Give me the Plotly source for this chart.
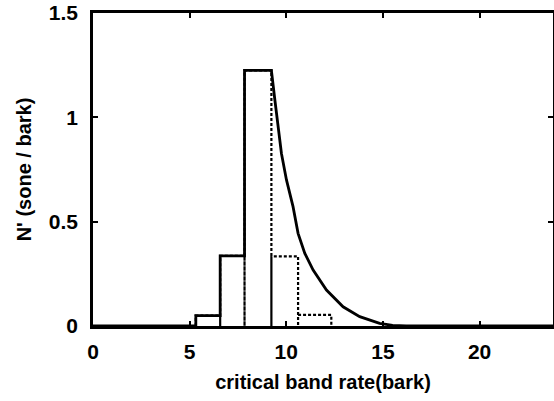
import plotly.graph_objects as go

# Band edges (bark) and levels (sone/bark)
band_edges = [5.32, 6.58, 7.84, 9.23, 10.61, 12.33]
band_levels = [0.05, 0.336, 1.225, 0.334, 0.053]

# Upper-slope (decay) curve of the specific loudness envelope
slope_x = [9.23, 9.41, 9.58, 9.75, 10.01, 10.35, 10.61, 10.96, 11.39, 12.08, 12.94, 13.8, 14.83, 15.5, 16.2]
slope_y = [1.225, 1.083, 0.955, 0.827, 0.700, 0.572, 0.444, 0.348, 0.268, 0.172, 0.092, 0.045, 0.013, 0.003, 0.0]

x_ticks = [0, 5, 10, 15, 20]
y_ticks = [0, 0.5, 1, 1.5]
y_tick_labels = ["0", "0.5", "1", "1.5"]

X_MAX = 23.8

# dotted rectangles per band
dx, dy = [], []
for i, h in enumerate(band_levels):
    x0, x1 = band_edges[i], band_edges[i + 1]
    dx += [x0, x0, x1, x1]
    dy += [0, h, h, 0]

# solid envelope: steps up to the peak band, then the decay slope
sx = [0, band_edges[0]]
sy = [0, 0]
for i in range(3):
    sx += [band_edges[i], band_edges[i + 1]]
    sy += [band_levels[i], band_levels[i]]
sx += slope_x + [X_MAX]
sy += slope_y + [0]

fig = go.Figure()
fig.add_trace(go.Scatter(x=dx, y=dy, mode="lines",
                         line=dict(color="black", width=2.2, dash="3px,2px"),
                         showlegend=False))
fig.add_trace(go.Scatter(x=sx, y=sy, mode="lines",
                         line=dict(color="black", width=2.8),
                         showlegend=False))

font = dict(family="Liberation Sans, Arial, sans-serif", size=20, color="black", weight="bold")
tfont = dict(family="Liberation Sans, Arial, sans-serif", size=21, color="black", weight="bold")

fig.update_layout(
    width=554, height=401,
    margin=dict(l=93, r=1, t=13, b=75, autoexpand=False),
    paper_bgcolor="white", plot_bgcolor="white",
    font=font,
    xaxis=dict(range=[0, X_MAX], tickvals=x_ticks, ticks="inside", ticklen=5,
               tickwidth=2, tickcolor="black", showline=True, linecolor="black",
               linewidth=2.5, mirror="ticks", showgrid=False, zeroline=False,
               tickfont=tfont, ticklabelstandoff=5, automargin=False,
               title=dict(text="critical band rate(bark)", font=font, standoff=14)),
    yaxis=dict(range=[0, 1.5], tickvals=y_ticks, ticktext=y_tick_labels,
               ticks="inside", ticklen=5, tickwidth=2, tickcolor="black",
               showline=True, linecolor="black", linewidth=2.5, mirror="ticks",
               showgrid=False, zeroline=False, tickfont=tfont, ticklabelstandoff=8,
               automargin=False,
               title=dict(text="N' (sone / bark)", font=font, standoff=12)),
)

fig.write_html("out.html", config={"displayModeBar": False},
               post_script="document.body.style.margin='0';document.body.style.overflow='hidden';")
